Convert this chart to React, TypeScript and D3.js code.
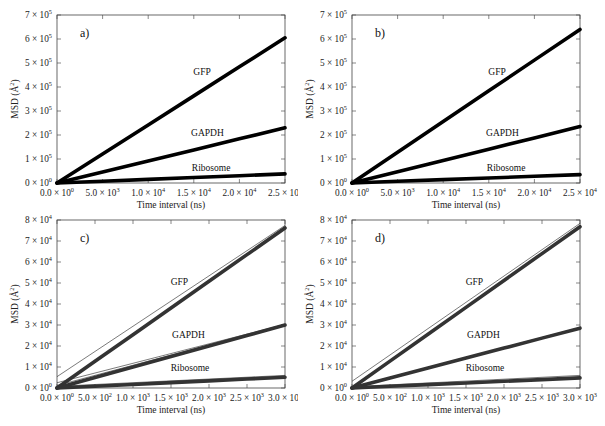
import React from "react";
import * as d3 from "d3";

// time axes (ns)
const timeAB = [0, 5000, 10000, 15000, 20000, 25000];
const timeCD = [0, 500, 1000, 1500, 2000, 2500, 3000];

// tick values
const xTicksAB = [0, 5000, 10000, 15000, 20000, 25000];
const yTicksAB = [0, 100000, 200000, 300000, 400000, 500000, 600000, 700000];
const xTicksCD = [0, 500, 1000, 1500, 2000, 2500, 3000];
const yTicksCD = [0, 10000, 20000, 30000, 40000, 50000, 60000, 70000, 80000];

// panel a (MSD, A^2)
const aGFP = [0, 121000, 242000, 363000, 484000, 605000];
const aGAPDH = [0, 46000, 92000, 138000, 184000, 230000];
const aRibosome = [0, 7600, 15200, 22800, 30400, 38000];

// panel b
const bGFP = [0, 128000, 256000, 384000, 512000, 640000];
const bGAPDH = [0, 47000, 94000, 141000, 188000, 235000];
const bRibosome = [0, 7000, 14000, 21000, 28000, 35000];

// panel c: data and linear fits
const cGFP = [0, 12700, 25400, 38100, 50800, 63500, 76200];
const cGAPDH = [0, 5000, 10000, 15000, 20000, 25000, 30000];
const cRibosome = [0, 850, 1700, 2550, 3400, 4250, 5100];
const cFitGFP = [5400, 17400, 29400, 41400, 53400, 65400, 77400];
const cFitGAPDH1 = [2500, 7130, 11770, 16400, 21030, 25670, 30300];
const cFitGAPDH2 = [1200, 6020, 10830, 15650, 20470, 25280, 30100];
const cFitRibo1 = [800, 1670, 2530, 3400, 4270, 5130, 6000];
const cFitRibo2 = [400, 1270, 2130, 3000, 3870, 4730, 5600];

// panel d
const dGFP = [0, 12800, 25600, 38400, 51200, 64000, 76800];
const dGAPDH = [0, 4750, 9500, 14250, 19000, 23750, 28500];
const dRibosome = [0, 800, 1600, 2400, 3200, 4000, 4800];
const dFitGFP = [3200, 15730, 28270, 40800, 53330, 65870, 78400];
const dFitGAPDH = [300, 5050, 9800, 14550, 19300, 24050, 28800];
const dFitRibo = [600, 1500, 2400, 3300, 4200, 5100, 6000];

const serif = '"Liberation Serif", "DejaVu Serif", serif';

type Series = { t: number[]; v: number[]; thin?: boolean };
type Note = { text: string; t: number; v: number };

type Panel = {
  id: string;
  label: string;
  dx: number;
  dy: number;
  xMax: number;
  yMax: number;
  xTicks: number[];
  yTicks: number[];
  thickColor: string;
  series: Series[];
  notes: Note[];
};

const panels: Panel[] = [
  {
    id: "a", label: "a)", dx: 0, dy: 0, xMax: 25000, yMax: 700000,
    xTicks: xTicksAB, yTicks: yTicksAB, thickColor: "#000",
    series: [
      { t: timeAB, v: aGFP },
      { t: timeAB, v: aGAPDH },
      { t: timeAB, v: aRibosome },
    ],
    notes: [
      { text: "GFP", t: 15900, v: 450000 },
      { text: "GAPDH", t: 16500, v: 195000 },
      { text: "Ribosome", t: 16900, v: 52000 },
    ],
  },
  {
    id: "b", label: "b)", dx: 295, dy: 0, xMax: 25000, yMax: 700000,
    xTicks: xTicksAB, yTicks: yTicksAB, thickColor: "#000",
    series: [
      { t: timeAB, v: bGFP },
      { t: timeAB, v: bGAPDH },
      { t: timeAB, v: bRibosome },
    ],
    notes: [
      { text: "GFP", t: 15900, v: 450000 },
      { text: "GAPDH", t: 16500, v: 195000 },
      { text: "Ribosome", t: 16900, v: 52000 },
    ],
  },
  {
    id: "c", label: "c)", dx: 0, dy: 205, xMax: 3000, yMax: 80000,
    xTicks: xTicksCD, yTicks: yTicksCD, thickColor: "#333",
    series: [
      { t: timeCD, v: cGFP },
      { t: timeCD, v: cGAPDH },
      { t: timeCD, v: cRibosome },
      { t: timeCD, v: cFitGFP, thin: true },
      { t: timeCD, v: cFitGAPDH1, thin: true },
      { t: timeCD, v: cFitGAPDH2, thin: true },
      { t: timeCD, v: cFitRibo1, thin: true },
      { t: timeCD, v: cFitRibo2, thin: true },
    ],
    notes: [
      { text: "GFP", t: 1610, v: 49000 },
      { text: "GAPDH", t: 1730, v: 24000 },
      { text: "Ribosome", t: 1750, v: 8000 },
    ],
  },
  {
    id: "d", label: "d)", dx: 295, dy: 205, xMax: 3000, yMax: 80000,
    xTicks: xTicksCD, yTicks: yTicksCD, thickColor: "#333",
    series: [
      { t: timeCD, v: dGFP },
      { t: timeCD, v: dGAPDH },
      { t: timeCD, v: dRibosome },
      { t: timeCD, v: dFitGFP, thin: true },
      { t: timeCD, v: dFitGAPDH, thin: true },
      { t: timeCD, v: dFitRibo, thin: true },
    ],
    notes: [
      { text: "GFP", t: 1610, v: 49000 },
      { text: "GAPDH", t: 1730, v: 24000 },
      { text: "Ribosome", t: 1750, v: 8000 },
    ],
  },
];

const plotLeft = 57;
const plotW = 228;
const plotTop = 15;
const plotH = 168;

// split a value into "m × 10^e"
function sci(v: number, digits: number) {
  if (v === 0) return { m: (0).toFixed(digits), e: 0 };
  const e = Math.floor(Math.log10(v));
  return { m: (v / Math.pow(10, e)).toFixed(digits), e };
}

function SciText({ v, digits, x, y, anchor }: { v: number; digits: number; x: number; y: number; anchor: string }) {
  const s = sci(v, digits);
  return (
    <text x={x} y={y} textAnchor={anchor} style={{ fontFamily: serif, fontSize: "9.3px" }} fill="#222">
      {s.m} × 10<tspan dy={-4} style={{ fontSize: "6.3px" }}>{s.e}</tspan>
    </text>
  );
}

function PanelView({ p }: { p: Panel }) {
  const x = d3.scaleLinear().domain([0, p.xMax]).range([plotLeft, plotLeft + plotW]);
  const y = d3.scaleLinear().domain([0, p.yMax]).range([plotTop + plotH, plotTop]);
  const line = (s: Series) =>
    d3.line<number>().x((_, i) => x(s.t[i])).y((d) => y(d))(s.v) || "";
  const x0 = x(0), x1 = x(p.xMax), y0 = y(0), y1 = y(p.yMax);
  const tk = 4;
  const clipW = p.dx === 0 ? 298 : 310;
  const clipH = p.dy === 0 ? 214 : 221;

  return (
    <g transform={`translate(${p.dx},${p.dy})`}>
      <defs>
        <clipPath id={`clip-${p.id}`}>
          <rect x={0} y={0} width={clipW} height={clipH} />
        </clipPath>
      </defs>
      <g clipPath={`url(#clip-${p.id})`}>
        {/* ticks, inward, mirrored */}
        {p.xTicks.map((t) => (
          <g key={`xt${t}`}>
            <line x1={x(t)} x2={x(t)} y1={y0} y2={y0 - tk} stroke="#555" strokeWidth={0.7} />
            <line x1={x(t)} x2={x(t)} y1={y1} y2={y1 + tk} stroke="#555" strokeWidth={0.7} />
            <SciText v={t} digits={1} x={x(t)} y={y0 + 13} anchor="middle" />
          </g>
        ))}
        {p.yTicks.map((t) => (
          <g key={`yt${t}`}>
            <line x1={x0} x2={x0 + tk} y1={y(t)} y2={y(t)} stroke="#555" strokeWidth={0.7} />
            <line x1={x1} x2={x1 - tk} y1={y(t)} y2={y(t)} stroke="#555" strokeWidth={0.7} />
            <SciText v={t} digits={0} x={x0 - 5} y={y(t) + 3.3} anchor="end" />
          </g>
        ))}
        <rect x={x0} y={y1} width={x1 - x0} height={y0 - y1} fill="none" stroke="#444" strokeWidth={0.8} />

        {p.series.filter((s) => s.thin).map((s, i) => (
          <path key={`thin${i}`} d={line(s)} fill="none" stroke="#222" strokeWidth={0.6} />
        ))}
        {p.series.filter((s) => !s.thin).map((s, i) => (
          <path key={`thick${i}`} d={line(s)} fill="none" stroke={p.thickColor} strokeWidth={3.6} strokeLinecap="round" />
        ))}

        {p.notes.map((n) => (
          <text key={n.text} x={x(n.t)} y={y(n.v)} textAnchor="middle" style={{ fontFamily: serif, fontSize: "9.5px" }} fill="#111">
            {n.text}
          </text>
        ))}

        <text x={80} y={37} style={{ fontFamily: serif, fontSize: "12px" }} fill="#111">{p.label}</text>

        <text x={(x0 + x1) / 2} y={208} textAnchor="middle" style={{ fontFamily: serif, fontSize: "9.5px" }} fill="#222">
          Time interval (ns)
        </text>
        <text transform={`translate(18,${(y0 + y1) / 2}) rotate(-90)`} textAnchor="middle" style={{ fontFamily: serif, fontSize: "9.5px" }} fill="#222">
          MSD (Å<tspan dy={-4} style={{ fontSize: "6.3px" }}>2</tspan><tspan dy={4}>)</tspan>
        </text>
      </g>
    </g>
  );
}

export default function App() {
  return (
    <div style={{ position: "absolute", left: 0, top: 0 }}>
      <svg width={605} height={426} style={{ display: "block", background: "#fff" }}>
        <rect width={605} height={426} fill="#fff" />
        {panels.map((p) => (
          <PanelView key={p.id} p={p} />
        ))}
      </svg>
    </div>
  );
}
